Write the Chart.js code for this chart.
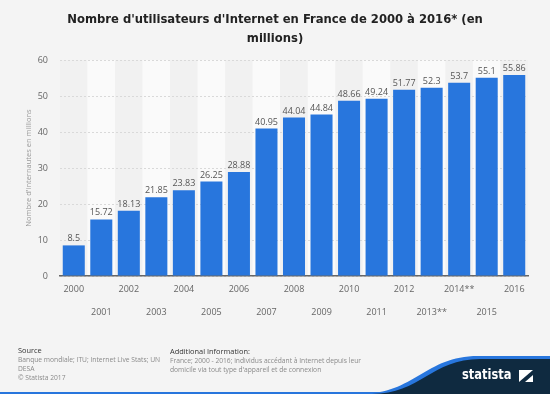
<!DOCTYPE html>
<html>
<head>
<meta charset="utf-8">
<script src="https://cdn.jsdelivr.net/npm/chart.js@4.4.1/dist/chart.umd.min.js"></script>
<style>
  html, body { margin: 0; padding: 0; background: #f4f4f4; }
  #wrap { position: relative; width: 550px; height: 394px; overflow: hidden; background: #f4f4f4; }
  #chart { position: absolute; left: 0; top: 0; }
  #title { position: absolute; left: 0; top: 10px; width: 550px; text-align: center; font-family: 'DejaVu Sans', sans-serif; font-weight: bold; font-size: 11.6px; line-height: 19px; color: #222; }
  .foot { position: absolute; font-family: 'Open Sans', 'DejaVu Sans', sans-serif; font-size: 6.7px; line-height: 9px; color: #8a8a8a; white-space: nowrap; }
  .foot b { font-weight: normal; color: #333; font-size: 7.4px; }
  #logo { position: absolute; left: 0; top: 0; }
  #brand { position: absolute; left: 462px; top: 366px; color: #fff; font-family: 'DejaVu Sans', sans-serif; font-weight: bold; font-size: 14px; line-height: 16px; transform: scaleX(0.82); transform-origin: 0 0; }
</style>
</head>
<body>
<div id="wrap">
  <canvas id="chart" width="550" height="394"></canvas>
  <div id="title">Nombre d'utilisateurs d'Internet en France de 2000 à 2016* (en<br>millions)</div>
  <svg id="logo" width="550" height="394">
    <rect x="0" y="392" width="550" height="2" fill="#2876dd"/>
    <path d="M 360 394 C 415 394, 425 356, 478 356 L 550 356 L 550 394 Z" fill="#2876dd"/>
    <path d="M 372 394 C 420 394, 432 359, 480 359 L 550 359 L 550 394 Z" fill="#0f2a40"/>
    <rect x="519" y="370" width="14" height="12" fill="#fff"/>
    <path d="M 519 382 L 533 370 L 533 375 L 525 382 Z" fill="#0f2a40"/>
  </svg>
  <div id="brand">statista</div>
  <div class="foot" style="left:18px; top:346px;"><b>Source</b><br>Banque mondiale; ITU; Internet Live Stats; UN<br>DESA<br>© Statista 2017</div>
  <div class="foot" style="left:170px; top:347px;"><b>Additional Information:</b><br>France; 2000 - 2016; individus accédant à Internet depuis leur<br>domicile via tout type d'appareil et de connexion</div>
</div>
<script>
// Internautes en France, 2000-2016 (millions)
const years = ['2000', '2001', '2002', '2003', '2004', '2005', '2006', '2007', '2008',
  '2009', '2010', '2011', '2012', '2013**', '2014**', '2015', '2016'];
const users = [8.5, 15.72, 18.13, 21.85, 23.83, 26.25, 28.88, 40.95, 44.04,
  44.84, 48.66, 49.24, 51.77, 52.3, 53.7, 55.1, 55.86];
const yTicks = [0, 10, 20, 30, 40, 50, 60];

const barColor = '#2876dd';
const smallFont = "'Open Sans', 'DejaVu Sans', sans-serif";

// alternating column stripes behind the bars
const stripes = {
  id: 'stripes',
  beforeDraw(chart) {
    const { ctx, chartArea, scales } = chart;
    const x = scales.x;
    const w = x.getPixelForValue(1) - x.getPixelForValue(0);
    ctx.save();
    years.forEach((_, i) => {
      ctx.fillStyle = i % 2 ? '#fafafa' : '#f1f1f1';
      const cx = x.getPixelForValue(i);
      ctx.fillRect(cx - w / 2, chartArea.top, w, chartArea.bottom - chartArea.top);
    });
    ctx.restore();
  },
};

// values on top of bars
const barLabels = {
  id: 'barLabels',
  afterDatasetsDraw(chart) {
    const { ctx } = chart;
    const meta = chart.getDatasetMeta(0);
    ctx.save();
    ctx.font = '9px ' + smallFont;
    ctx.fillStyle = '#555';
    ctx.textAlign = 'center';
    ctx.textBaseline = 'bottom';
    meta.data.forEach((bar, i) => {
      ctx.fillText(String(users[i]), bar.x, bar.y - 2);
    });
    ctx.restore();
  },
};

new Chart(document.getElementById('chart'), {
  type: 'bar',
  data: {
    labels: years,
    datasets: [{
      data: users,
      backgroundColor: barColor,
      borderWidth: 0,
      barPercentage: 0.8,
      categoryPercentage: 1,
    }],
  },
  options: {
    responsive: false,
    animation: false,
    events: [],
    layout: { padding: { left: 0, right: 22, top: 60, bottom: 68 } },
    plugins: {
      legend: { display: false },
      tooltip: { enabled: false },
      title: { display: false },
    },
    scales: {
      x: {
        grid: { display: false, drawTicks: false },
        border: { color: '#666', width: 1.5 },
        ticks: {
          autoSkip: false,
          maxRotation: 0,
          padding: 2,
          color: '#666',
          font: { family: smallFont, size: 9, lineHeight: 2.55 },
          callback: (v, i) => (i % 2 ? ['', years[i]] : years[i]),
        },
        afterFit: s => { s.height = 50; },
      },
      y: {
        min: 0,
        max: 60,
        afterBuildTicks: s => { s.ticks = yTicks.map(v => ({ value: v })); },
        grid: { color: '#d9d9d9', drawTicks: false },
        border: { display: false, dash: [2, 2] },
        ticks: { padding: 12, color: '#666', font: { family: smallFont, size: 9 } },
        title: {
          display: true,
          text: "Nombre d'internautes en millions",
          color: '#999',
          font: { family: smallFont, size: 7.5 },
          padding: { top: 24, bottom: 0 },
        },
        afterFit: s => { s.width = 60; },
      },
    },
  },
  plugins: [stripes, barLabels],
});
</script>
</body>
</html>
